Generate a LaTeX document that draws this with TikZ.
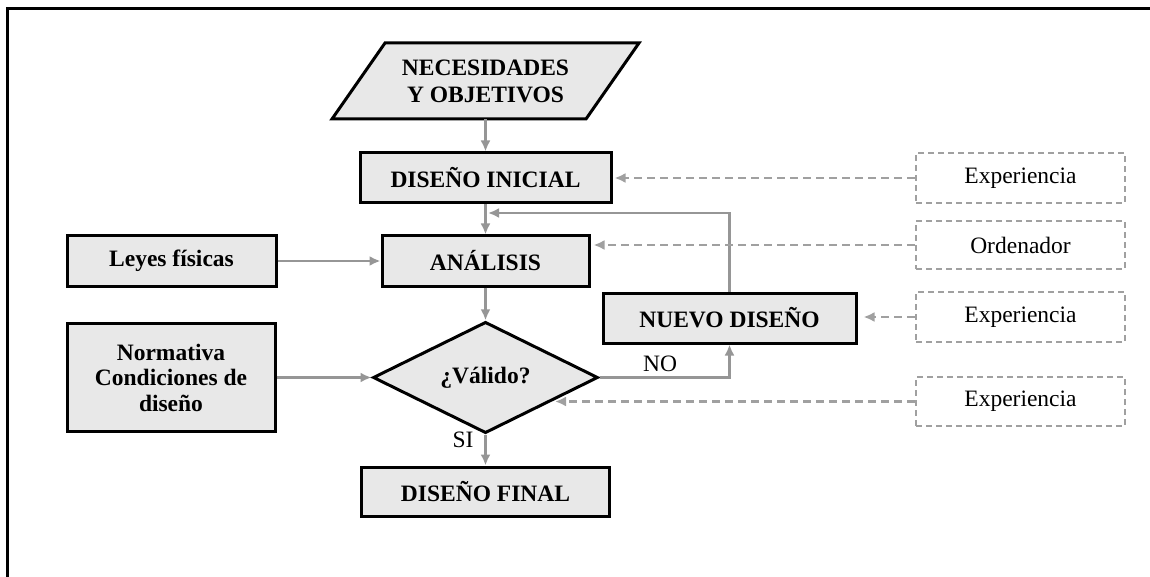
\documentclass[tikz,border=0pt]{standalone}
\usepackage{fontspec}
\setmainfont{Liberation Serif}
\usetikzlibrary{shapes.geometric,arrows.meta}
\definecolor{boxfill}{RGB}{232,232,232}
\definecolor{arrgray}{RGB}{150,150,150}
\definecolor{dashgray}{RGB}{160,160,160}
\begin{document}
\begin{tikzpicture}[x=1pt,y=-1pt,
  every node/.style={font=\fontsize{23.5}{26}\selectfont},
  mainbox/.style={draw=black, line width=3pt, fill=boxfill, inner sep=0pt, align=center,
    font=\bfseries\fontsize{23.5}{26}\selectfont},
  expbox/.style={draw=dashgray, line width=2.5pt, dash pattern=on 6pt off 4pt, inner sep=0pt,
    minimum width=209pt},
  flow/.style={draw=arrgray, line width=2.2pt, -{Latex[length=11pt,width=10pt]}},
  dflow/.style={draw=dashgray, line width=2.2pt, dash pattern=on 8pt off 5pt, -{Latex[length=11pt,width=10pt]}},
  lbl/.style={inner sep=0pt}
]
\useasboundingbox (0,0) rectangle (1150,577);
% frame
\draw[line width=3pt] (7,580) -- (7,9) -- (1155,9);

% parallelogram
\draw[line width=3pt, fill=boxfill, line join=miter] (332,119) -- (385,43) -- (639,43) -- (586,119) -- cycle;
\node[inner sep=0pt, minimum height=76pt, align=center, font=\bfseries\fontsize{23.5}{27}\selectfont] (par) at (485.5,81) {NECESIDADES\\Y OBJETIVOS};

\node[mainbox, minimum width=251pt, minimum height=50pt] (ini) at (485.5,178) {DISEÑO INICIAL};
\node[mainbox, minimum width=207pt, minimum height=50pt] (ana) at (485.5,261) {ANÁLISIS};
\node[mainbox, minimum width=253pt, minimum height=50pt] (nue) at (729.5,318) {NUEVO DISEÑO};
\node[mainbox, minimum width=248pt, minimum height=49pt] (fin) at (485.5,491.5) {DISEÑO FINAL};
\node[mainbox, minimum width=209pt, minimum height=50pt] (ley) at (171.5,261) {Leyes físicas};
\node[mainbox, minimum width=208pt, minimum height=108pt, font=\bfseries\fontsize{23.5}{25.5}\selectfont] (nor) at (171,377.5) {Normativa\\Condiciones de\\diseño};
\node[mainbox, diamond, minimum width=225pt, minimum height=89pt] (val) at (485.5,377.5) {¿Válido?};

\node[expbox, minimum height=50pt] (e1) at (1020.5,178) {Experiencia};
\node[expbox, minimum height=48pt] (e2) at (1020.5,245) {Ordenador};
\node[expbox, minimum height=50pt] (e3) at (1020.5,317) {Experiencia};
\node[expbox, minimum height=49pt] (e4) at (1020.5,401.5) {Experiencia};

\coordinate (fb) at (488,213);
\coordinate (vd) at (555,401.5);

% main flow
\draw[flow] (par.south) -- (ini.north);
\draw[flow] (ini.south) -- (ana.north);
\draw[flow] (ana.south) -- (val.north);
\draw[flow] (val.south) -- (fin.north);
\draw[flow] (val.east) -| (nue.south);
\draw[flow] (nue.north) |- (fb);
\draw[flow] (ley.east) -- (ana.west);
\draw[flow] (nor.east) -- (val.west);

\node[lbl] (si) at (463,440) {SI};
\node[lbl] (no) at (660,364) {NO};

% dashed inputs
\draw[dflow, shorten >=2pt] (e1.west) -- (ini.east);
\draw[dflow, shorten >=3pt] (e2.west) -- (ana.east |- e2.west);
\draw[dflow, shorten >=6pt] (e3.west) -- (nue.east |- e3.west);
\draw[dflow] (e4.west) -- (vd);
\end{tikzpicture}
\end{document}
